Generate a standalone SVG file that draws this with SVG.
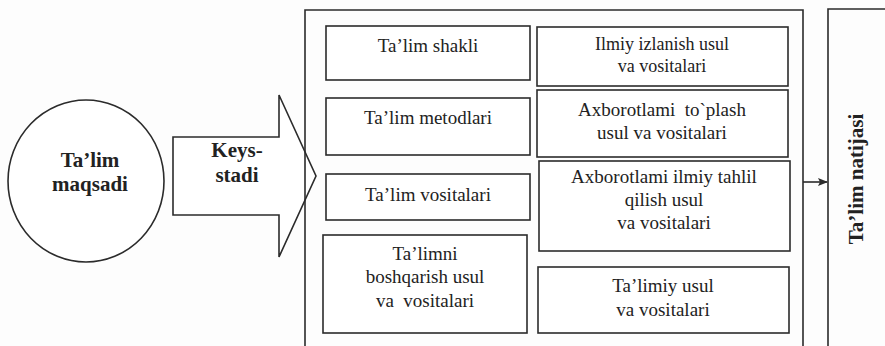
<svg xmlns="http://www.w3.org/2000/svg" width="885" height="346" viewBox="0 0 885 346">
<defs>
<marker id="ah" markerWidth="10" markerHeight="8" refX="9" refY="4" orient="auto" markerUnits="userSpaceOnUse">
<path d="M0,0 L10,4 L0,8 L2,4 Z" fill="#2b2b2b"/>
</marker>
</defs>
<rect x="0" y="0" width="885" height="346" fill="#fdfdfd"/>

<g id="goal" fill="#ffffff" stroke="#2b2b2b" stroke-width="1.6">
<ellipse cx="86" cy="181" rx="78" ry="81"/>
</g>
<g id="goal-label" fill="#222" text-anchor="middle" font-size="21" font-weight="bold">
<text x="90" y="167" style="font-family:'Liberation Serif',serif">Ta’lim</text>
<text x="90" y="191" style="font-family:'Liberation Serif',serif">maqsadi</text>
</g>

<g id="case-study" fill="#ffffff" stroke="#2b2b2b" stroke-width="1.6">
<path d="M173,137 H279 V95 L316,176 L279,257 V215 H173 Z"/>
</g>
<g id="case-study-label" fill="#222" text-anchor="middle" font-size="21" font-weight="bold">
<text x="237" y="157" style="font-family:'Liberation Serif',serif">Keys-</text>
<text x="237" y="182" style="font-family:'Liberation Serif',serif">stadi</text>
</g>

<g id="container" fill="none" stroke="#2b2b2b" stroke-width="1.6">
<path d="M305,346 V10 H803 V346"/>
</g>

<g id="boxes" fill="#ffffff" stroke="#2b2b2b" stroke-width="1.6">
<rect id="shakli" x="326" y="26" width="204" height="54"/>
<rect id="metodlari" x="326" y="98" width="204" height="57"/>
<rect id="vositalari" x="326" y="174" width="204" height="46"/>
<rect id="boshqarish" x="323" y="235" width="204" height="98"/>
<rect id="izlanish" x="537" y="27" width="251" height="59"/>
<rect id="toplash" x="537" y="90" width="251" height="67"/>
<rect id="tahlil" x="539" y="161" width="251" height="90"/>
<rect id="talimiy" x="538" y="267" width="251" height="66"/>
</g>

<g id="box-labels" fill="#222" text-anchor="middle" font-size="19">
<text x="428" y="52" style="font-family:'Liberation Serif',serif">Ta’lim shakli</text>
<text x="428" y="124" style="font-family:'Liberation Serif',serif">Ta’lim metodlari</text>
<text x="428" y="201" style="font-family:'Liberation Serif',serif">Ta’lim vositalari</text>
<text x="425" y="260" style="font-family:'Liberation Serif',serif">Ta’limni</text>
<text x="425" y="283" style="font-family:'Liberation Serif',serif">boshqarish usul</text>
<text x="425" y="307" style="font-family:'Liberation Serif',serif" xml:space="preserve">va  vositalari</text>
<text x="662" y="50" font-size="18" style="font-family:'Liberation Serif',serif">Ilmiy izlanish usul</text>
<text x="662" y="72" font-size="18" style="font-family:'Liberation Serif',serif">va vositalari</text>
<text x="662" y="116" style="font-family:'Liberation Serif',serif" xml:space="preserve">Axborotlami  to`plash</text>
<text x="662" y="139" style="font-family:'Liberation Serif',serif">usul va vositalari</text>
<text x="664" y="183" style="font-family:'Liberation Serif',serif">Axborotlami ilmiy tahlil</text>
<text x="664" y="206" style="font-family:'Liberation Serif',serif">qilish usul</text>
<text x="664" y="229" style="font-family:'Liberation Serif',serif">va vositalari</text>
<text x="663" y="292" style="font-family:'Liberation Serif',serif">Ta’limiy usul</text>
<text x="663" y="316" style="font-family:'Liberation Serif',serif">va vositalari</text>
</g>

<g id="natija" fill="none" stroke="#2b2b2b" stroke-width="1.6">
<path d="M828,346 V9 H885"/>
</g>
<g id="natija-label" fill="#222" text-anchor="middle" font-size="21" font-weight="bold">
<text transform="translate(863,179) rotate(-90)" x="0" y="0" style="font-family:'Liberation Serif',serif">Ta’lim natijasi</text>
</g>

<g id="connectors" fill="none" stroke="#2b2b2b" stroke-width="1.6">
<line x1="803" y1="182" x2="827" y2="182" marker-end="url(#ah)"/>
</g>
</svg>
